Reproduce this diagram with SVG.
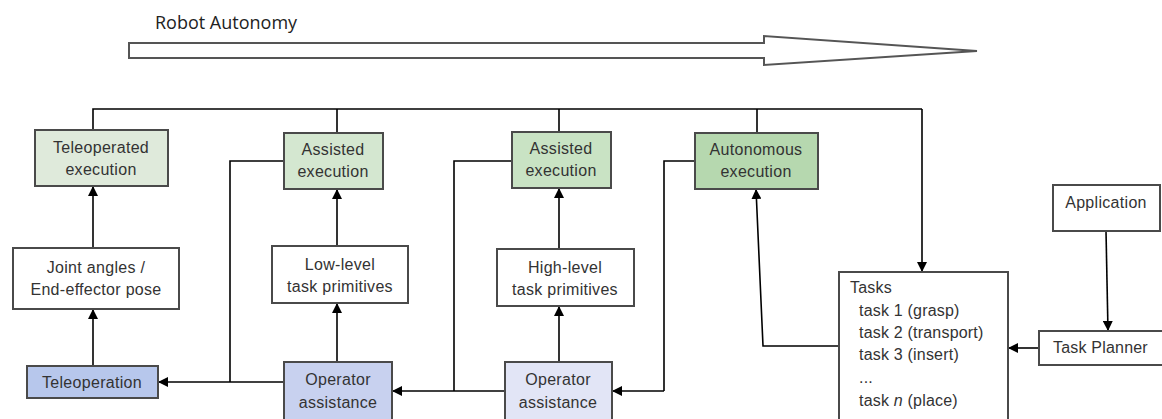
<svg xmlns="http://www.w3.org/2000/svg" width="1162" height="419" viewBox="0 0 1162 419">
<defs>
<marker id="ah" markerUnits="userSpaceOnUse" markerWidth="10" markerHeight="10" refX="10" refY="5" orient="auto">
<path d="M0,0 L10,5 L0,10 z" fill="#000"/>
</marker>
<style>
.box{stroke:#4a4a4a;stroke-width:2}
.lbl{font-family:"Liberation Sans",Arial,sans-serif;font-size:16px;letter-spacing:0.3px;fill:#333;text-anchor:middle}
.lft{font-family:"Liberation Sans",Arial,sans-serif;font-size:16px;letter-spacing:0.2px;fill:#333}
.ln{fill:none;stroke:#000;stroke-width:1.6}
.ar{fill:none;stroke:#000;stroke-width:1.6;marker-end:url(#ah)}
</style>
</defs>
<rect width="1162" height="419" fill="#fff"/>
<g id="autonomy">
<text x="155" y="29" font-family="Open Sans, sans-serif" font-size="18" fill="#222">Robot Autonomy</text>
<polygon points="129,43 764,43 764,36 977,51 764,65 764,58 129,58" fill="#fff" stroke="#555" stroke-width="2"/>
</g>
<g id="connectors">
<path class="ln" d="M93,130 V109 H922"/>
<path class="ar" d="M922,109 V272"/>
<path class="ln" d="M337,109 V133 M559,109 V132 M757,109 V133"/>
<path class="ar" d="M93,248 V186"/>
<path class="ar" d="M93,366 V309"/>
<path class="ar" d="M337,246 V189"/>
<path class="ar" d="M337,362 V303"/>
<path class="ar" d="M559,249 V188"/>
<path class="ar" d="M559,362 V306"/>
<path class="ar" d="M284,382 H158"/>
<path class="ln" d="M230,382 V161 H284"/>
<path class="ar" d="M505,391 H392"/>
<path class="ln" d="M454,391 V161 H512"/>
<path class="ln" d="M695,161 H664 V391"/>
<path class="ar" d="M664,391 H612"/>
<path class="ar" d="M839,346 H763 L756,189"/>
<path class="ar" d="M1106,231 L1108,331"/>
<path class="ar" d="M1039,348 H1008"/>
</g>
<g id="teleop-exec">
<rect class="box" x="35" y="130" width="133" height="56" fill="#dfeadb"/>
<text class="lbl" x="101" y="153">Teleoperated</text>
<text class="lbl" x="101" y="175">execution</text>
</g>
<g id="assisted-exec-1">
<rect class="box" x="284" y="133" width="99" height="56" fill="#d4e7d0"/>
<text class="lbl" x="333" y="155">Assisted</text>
<text class="lbl" x="333" y="177">execution</text>
</g>
<g id="assisted-exec-2">
<rect class="box" x="512" y="132" width="99" height="56" fill="#c9e3c4"/>
<text class="lbl" x="561" y="154">Assisted</text>
<text class="lbl" x="561" y="176">execution</text>
</g>
<g id="autonomous-exec">
<rect class="box" x="695" y="133" width="123" height="56" fill="#b6d8af"/>
<text class="lbl" x="756" y="155">Autonomous</text>
<text class="lbl" x="756" y="177">execution</text>
</g>
<g id="joint">
<rect class="box" x="13" y="248" width="166" height="61" fill="#fff"/>
<text class="lbl" x="96" y="273">Joint angles /</text>
<text class="lbl" x="96" y="295">End-effector pose</text>
</g>
<g id="low-level">
<rect class="box" x="272" y="246" width="136" height="57" fill="#fff"/>
<text class="lbl" x="340" y="270">Low-level</text>
<text class="lbl" x="340" y="292">task primitives</text>
</g>
<g id="high-level">
<rect class="box" x="497" y="249" width="137" height="57" fill="#fff"/>
<text class="lbl" x="565" y="273">High-level</text>
<text class="lbl" x="565" y="295">task primitives</text>
</g>
<g id="teleoperation">
<rect class="box" x="27" y="366" width="131" height="32" fill="#b7c7ec"/>
<text class="lbl" x="92" y="388">Teleoperation</text>
</g>
<g id="operator-assistance-1">
<rect class="box" x="284" y="362" width="108" height="62" fill="#c8d1ef"/>
<text class="lbl" x="338" y="385">Operator</text>
<text class="lbl" x="338" y="408">assistance</text>
</g>
<g id="operator-assistance-2">
<rect class="box" x="505" y="362" width="107" height="62" fill="#e2e5f6"/>
<text class="lbl" x="558" y="385">Operator</text>
<text class="lbl" x="558" y="408">assistance</text>
</g>
<g id="tasks">
<rect class="box" x="839" y="272" width="169" height="152" fill="#fff"/>
<text class="lft" x="850" y="293">Tasks</text>
<text class="lft" x="859" y="316">task 1 (grasp)</text>
<text class="lft" x="859" y="338">task 2 (transport)</text>
<text class="lft" x="859" y="360">task 3 (insert)</text>
<text class="lft" x="859" y="383">...</text>
<text class="lft" x="859" y="406">task <tspan font-style="italic">n</tspan> (place)</text>
</g>
<g id="application">
<rect class="box" x="1053" y="185" width="107" height="46" fill="#fff"/>
<text class="lbl" x="1106" y="208">Application</text>
</g>
<g id="task-planner">
<rect class="box" x="1039" y="331" width="126" height="34" fill="#fff"/>
<text class="lft" x="1053" y="353">Task Planner</text>
</g>
</svg>
